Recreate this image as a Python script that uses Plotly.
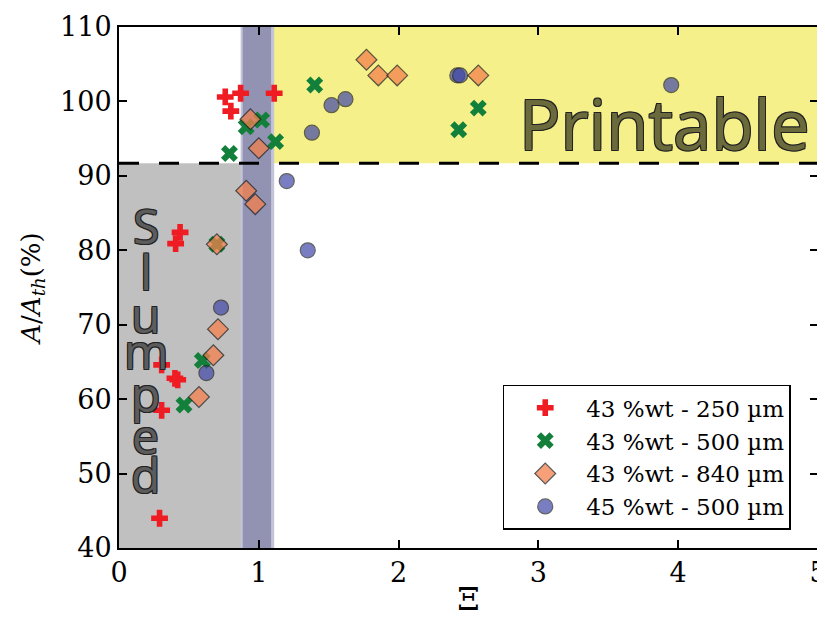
import plotly.graph_objects as go

# ---------------- data ----------------
red_x = [0.76, 0.87, 0.80, 1.11, 0.437, 0.405, 0.305, 0.40, 0.42, 0.305, 0.29]
red_y = [100.6, 101.1, 98.7, 101.1, 82.4, 80.9, 64.6, 62.8, 62.6, 58.5, 44.0]

green_x = [0.79, 0.91, 1.02, 1.12, 1.40, 2.43, 2.57, 0.70, 0.596, 0.465]
green_y = [93.0, 96.6, 97.5, 94.6, 102.2, 96.2, 99.1, 80.8, 65.2, 59.2]

orange_x = [0.94, 1.00, 0.91, 0.975, 0.70, 0.708, 0.675, 0.572, 1.77, 1.855, 1.99, 2.57]
orange_y = [97.6, 93.7, 88.0, 86.2, 80.8, 69.4, 65.9, 60.3, 105.6, 103.5, 103.5, 103.5]

blue_x = [2.42, 2.44, 3.95, 1.52, 1.62, 1.38, 1.20, 1.35, 0.73, 0.625]
blue_y = [103.5, 103.5, 102.2, 99.5, 100.3, 95.8, 89.3, 80.0, 72.3, 63.5]

series_names = ["43 %wt - 250 µm", "43 %wt - 500 µm", "43 %wt - 840 µm", "45 %wt - 500 µm"]

x_ticks = [0, 1, 2, 3, 4, 5]
y_ticks = [40, 50, 60, 70, 80, 90, 100, 110]

threshold_y = 91.7
slump_x_end = 0.88
band_x0, band_x1 = 0.88, 1.10

slump_letters = ["S", "l", "u", "m", "p", "e", "d"]
slump_letter_y = [83.3, 77.2, 71.4, 66.6, 60.7, 55.05, 49.9]

# ---------------- figure ----------------
SERIF = "DejaVu Serif"
fig = go.Figure()

fig.add_trace(go.Scatter(x=red_x, y=red_y, mode="markers", name=series_names[0], legendgroup="a",
                         marker=dict(symbol="cross", size=14, color="#f01c24", line=dict(width=0))))
fig.add_trace(go.Scatter(x=green_x, y=green_y, mode="markers", name=series_names[1], legendgroup="b",
                         marker=dict(symbol="x", size=15, color="#12803a", line=dict(width=0))))
fig.add_trace(go.Scatter(x=orange_x, y=orange_y, mode="markers", name=series_names[2], legendgroup="c",
                         marker=dict(symbol="diamond", size=16, color="#f4804c", opacity=0.75,
                                     line=dict(width=1.2, color="#222222"))))
fig.add_trace(go.Scatter(x=blue_x, y=blue_y, mode="markers", name=series_names[3], legendgroup="d",
                         marker=dict(symbol="circle", size=15, color="#4048a8", opacity=0.7,
                                     line=dict(width=1.2, color="#222222"))))

shapes = [
    dict(type="rect", xref="x", yref="y", x0=0, x1=slump_x_end, y0=40, y1=threshold_y,
         fillcolor="#c0c0c0", line=dict(width=0), layer="below"),
    dict(type="rect", xref="x", yref="y", x0=band_x1, x1=5, y0=threshold_y, y1=110,
         fillcolor="#f5f08a", line=dict(width=0), layer="below"),
    dict(type="rect", xref="x", yref="y", x0=band_x0 - 0.01, x1=band_x1 + 0.01, y0=40, y1=110,
         fillcolor="#c4c4d8", line=dict(width=0), layer="below"),
    dict(type="rect", xref="x", yref="y", x0=band_x0 + 0.005, x1=band_x1 - 0.012, y0=40, y1=110,
         fillcolor="#9292b2", line=dict(width=0), layer="below"),
    dict(type="line", xref="x", yref="y", x0=0, x1=5, y0=threshold_y, y1=threshold_y,
         line=dict(color="black", width=3, dash="20px,20px"), layer="below"),
]

outline_dark = "1px 1px 0 #222, -1px -1px 0 #222, 1px -1px 0 #222, -1px 1px 0 #222"
annotations = [
    dict(x=3.9, y=97.1, xref="x", yref="y", text="Printable", showarrow=False,
         font=dict(family="Open Sans", size=69, color="#6b6a3c", shadow=outline_dark)),
]
for letter, ly in zip(slump_letters, slump_letter_y):
    annotations.append(dict(x=0.19, y=ly, xref="x", yref="y", text=letter, showarrow=False,
                            font=dict(family="Open Sans", size=48, color="#5c5c5c", shadow=outline_dark)))

# page body has an 8px margin: figure is sized so the plot area lands at x 119-818, y 27-548
fig.update_layout(
    width=825, height=610,
    margin=dict(l=111, r=15, t=19, b=70),
    paper_bgcolor="white", plot_bgcolor="white",
    shapes=shapes, annotations=annotations,
    font=dict(family=SERIF, size=22, color="black"),
    showlegend=True,
    legend=dict(x=0.961, y=0.035, xanchor="right", yanchor="bottom",
                bgcolor="white", bordercolor="black", borderwidth=1.5,
                font=dict(family=SERIF, size=23), itemwidth=72,
                tracegroupgap=0),
)

fig.update_xaxes(range=[0, 5], tickvals=x_ticks, ticktext=[str(v) for v in x_ticks],
                 ticks="inside", ticklen=8, tickwidth=1.5, tickcolor="black",
                 showline=True, linecolor="black", linewidth=2, mirror="ticks",
                 showgrid=False, zeroline=False, automargin=False,
                 tickfont=dict(family=SERIF, size=27),
                 title=dict(text="Ξ", font=dict(family=SERIF, size=32), standoff=4))
fig.update_yaxes(range=[40, 110], tickvals=y_ticks, ticktext=[str(v) for v in y_ticks],
                 ticks="inside", ticklen=8, tickwidth=1.5, tickcolor="black",
                 showline=True, linecolor="black", linewidth=2, mirror="ticks",
                 showgrid=False, zeroline=False, automargin=False,
                 tickfont=dict(family=SERIF, size=27),
                 title=dict(text="<i>A</i>/<i>A</i><sub><i>th</i></sub>(%)",
                            font=dict(family=SERIF, size=26), standoff=12))

fig.write_html("out.html")
